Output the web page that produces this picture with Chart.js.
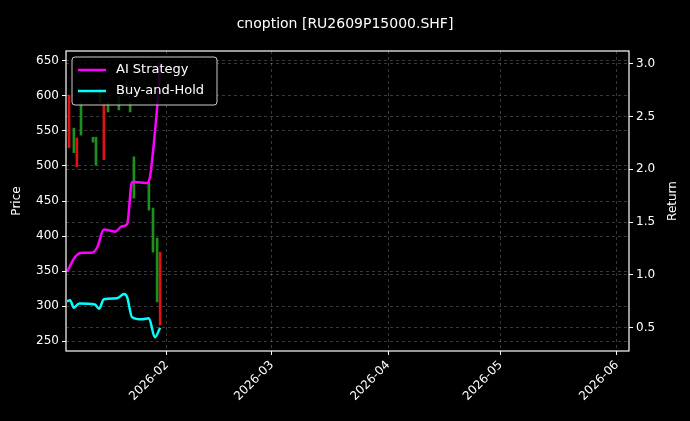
<!DOCTYPE html>
<html>
<head>
<meta charset="utf-8">
<script src="https://cdn.jsdelivr.net/npm/chart.js@4.4.1/dist/chart.umd.min.js"></script>
<style>
  body { margin: 0; background: #000; }
</style>
</head>
<body>
<canvas id="myChart" width="690" height="421"></canvas>
<script>
// Données (jours de janvier 2026)
const candleDays = [5.9, 7.2, 8.0, 9.1, 12.3, 13.1, 14.2, 15.2, 16.3, 19.2, 20.2, 21.2, 22.2, 23.2, 27.2, 28.3, 29.4, 30.2];
const opens  = [601, 519, 540, 544, 534, 501, 590, 590, 577, 580, 615, 600, 577, 454, 437, 377, 306, 377];
const closes = [526, 554, 499, 590, 541, 541, 610, 509, 591, 599, 600, 620, 591, 513, 476, 440, 397, 273];

const aiDays   = [5.4, 7.5, 9.4, 12.0, 13.4, 15.2, 18.2, 20.0, 21.4, 22.7, 23.5, 26.7, 27.5, 28.8, 29.9, 30.2];
const aiReturn = [1.03, 1.17, 1.21, 1.21, 1.26, 1.43, 1.41, 1.46, 1.48, 1.88, 1.88, 1.87, 1.93, 2.35, 2.82, 3.02];

const bhDays   = [5.4, 6.2, 7.2, 8.6, 12.8, 13.9, 15.2, 18.7, 20.6, 21.4, 22.7, 25.4, 27.2, 28.8, 30.2];
const bhReturn = [0.75, 0.76, 0.69, 0.73, 0.72, 0.68, 0.77, 0.78, 0.82, 0.79, 0.60, 0.58, 0.59, 0.41, 0.50];

const monthTicks = ['2026-02', '2026-03', '2026-04', '2026-05', '2026-06'];

const DAY = 86400000;
function jan(d) { return Date.UTC(2026, 0, 1) + (d - 1) * DAY; }
function monthStart(s) { const p = s.split('-'); return Date.UTC(+p[0], +p[1] - 1, 1); }

const candles = candleDays.map((d, i) => ({ x: jan(d), y: [opens[i], closes[i]] }));
const candleColors = opens.map((o, i) => closes[i] >= o ? '#1f8f1f' : '#e31212');

const font = { family: 'DejaVu Sans', size: 12 };
const grid = {
    color: 'rgba(255,255,255,0.22)',
    tickColor: '#fff',
    tickLength: 4,
    tickBorderDash: [],
    offset: false,
};
const border = { display: false, dash: [3, 3] };

// fond noir, cadre blanc, titres et légende dans la zone
const decor = {
    id: 'decor',
    beforeDraw(chart) {
        const c = chart.ctx;
        c.save();
        c.fillStyle = '#000';
        c.fillRect(0, 0, chart.width, chart.height);
        c.restore();
    },
    afterDraw(chart) {
        const c = chart.ctx, a = chart.chartArea;
        c.save();
        c.strokeStyle = '#fff';
        c.lineWidth = 1.2;
        c.strokeRect(a.left, a.top, a.right - a.left, a.bottom - a.top);

        c.fillStyle = '#fff';
        c.font = '14px "DejaVu Sans"';
        c.textAlign = 'center';
        c.textBaseline = 'middle';
        c.fillText('cnoption [RU2609P15000.SHF]', chart.width / 2, 24);

        // titres des axes, lus de bas en haut
        c.font = '12px "DejaVu Sans"';
        const midY = (a.top + a.bottom) / 2;
        [['Price', 17], ['Return', 673]].forEach(t => {
            c.save();
            c.translate(t[1], midY);
            c.rotate(-Math.PI / 2);
            c.fillText(t[0], 0, 0);
            c.restore();
        });

        const lx = a.left + 6, ly = a.top + 6, lw = 145, lh = 48;
        c.fillStyle = 'rgba(0,0,0,0.85)';
        c.strokeStyle = '#ccc';
        c.lineWidth = 1;
        c.beginPath();
        c.roundRect(lx, ly, lw, lh, 3);
        c.fill();
        c.stroke();
        const items = [['AI Strategy', '#ff00ff'], ['Buy-and-Hold', '#00ffff']];
        c.font = '13px "DejaVu Sans"';
        c.textAlign = 'left';
        items.forEach((it, i) => {
            const y = ly + 13 + i * 21;
            c.strokeStyle = it[1];
            c.lineWidth = 2.5;
            c.beginPath();
            c.moveTo(lx + 6, y);
            c.lineTo(lx + 34, y);
            c.stroke();
            c.fillStyle = '#fff';
            c.fillText(it[0], lx + 44, y);
        });
        c.restore();
    }
};

new Chart(document.getElementById('myChart'), {
    data: {
        datasets: [
            {
                type: 'bar',
                data: candles,
                yAxisID: 'y',
                backgroundColor: candleColors,
                barThickness: 2,
                order: 2,
            },
            {
                type: 'line',
                label: 'AI Strategy',
                data: aiDays.map((d, i) => ({ x: jan(d), y: aiReturn[i] })),
                yAxisID: 'y1',
                borderColor: '#ff00ff',
                borderWidth: 2.5,
                pointRadius: 0,
                cubicInterpolationMode: 'monotone',
                order: 1,
            },
            {
                type: 'line',
                label: 'Buy-and-Hold',
                data: bhDays.map((d, i) => ({ x: jan(d), y: bhReturn[i] })),
                yAxisID: 'y1',
                borderColor: '#00ffff',
                borderWidth: 2.5,
                pointRadius: 0,
                cubicInterpolationMode: 'monotone',
                order: 1,
            },
        ]
    },
    options: {
        responsive: false,
        animation: false,
        devicePixelRatio: 1,
        layout: { padding: { top: 51 } },
        plugins: { legend: { display: false }, tooltip: { enabled: false } },
        scales: {
            x: {
                type: 'linear',
                offset: false,
                min: jan(5.1),
                max: Date.UTC(2026, 5, 4, 5),
                grid: grid,
                border: border,
                afterBuildTicks(scale) {
                    scale.ticks = monthTicks.map(m => ({ value: monthStart(m) }));
                },
                afterFit(scale) { scale.height = 70; },
                ticks: {
                    color: '#fff',
                    font: font,
                    minRotation: 45,
                    maxRotation: 45,
                    callback: (v) => {
                        const d = new Date(v);
                        return d.getUTCFullYear() + '-' + String(d.getUTCMonth() + 1).padStart(2, '0');
                    }
                }
            },
            y: {
                position: 'left',
                min: 236,
                max: 664,
                grid: grid,
                border: border,
                afterFit(scale) { scale.width = 66; },
                afterBuildTicks(scale) {
                    scale.ticks = [250, 300, 350, 400, 450, 500, 550, 600, 650].map(v => ({ value: v }));
                },
                ticks: { color: '#fff', font: font }
            },
            y1: {
                position: 'right',
                min: 0.28,
                max: 3.12,
                grid: grid,
                border: border,
                afterFit(scale) { scale.width = 61; },
                afterBuildTicks(scale) {
                    scale.ticks = [0.5, 1.0, 1.5, 2.0, 2.5, 3.0].map(v => ({ value: v }));
                },
                ticks: { color: '#fff', font: font, callback: v => v.toFixed(1) }
            }
        }
    },
    plugins: [decor]
});
</script>
</body>
</html>
